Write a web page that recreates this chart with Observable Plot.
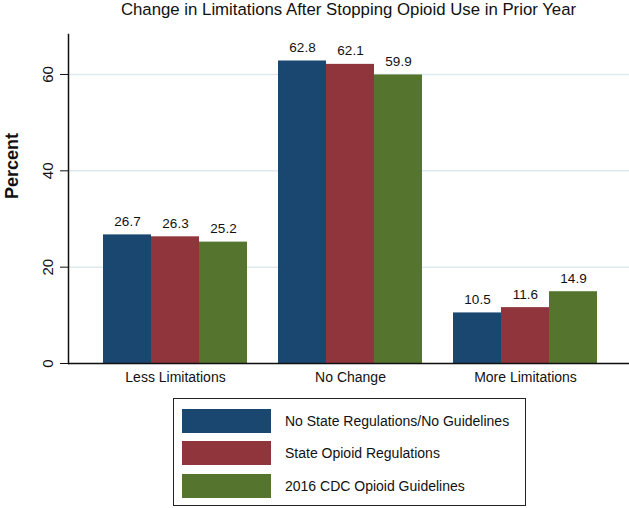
<!DOCTYPE html>
<html>
<head>
<meta charset="utf-8">
<script src="https://cdn.jsdelivr.net/npm/d3@7"></script>
<script src="https://cdn.jsdelivr.net/npm/@observablehq/plot@0.6"></script>
<style>
  body { margin: 0; background: #fff; font-family: "Liberation Sans", Arial, sans-serif; }
  #wrap { position: relative; width: 629px; height: 508px; }
  #title { position: absolute; left: 68px; width: 561px; top: 0; height: 20px; text-align: center; font-size: 16.8px; line-height: 19px; color: #111; white-space: nowrap; }
  #chart { position: absolute; left: 0; top: 28px; }
  #legend { position: absolute; left: 173px; top: 398px; width: 351px; height: 106px; border: 1px solid #222; box-sizing: content-box; }
  .item { position: absolute; left: 8px; height: 24px; }
  .sw { position: absolute; left: 0; top: 0; width: 89px; height: 24px; }
  .lab { position: absolute; left: 103px; top: 0; line-height: 24px; font-size: 14px; white-space: nowrap; color: #111; }
</style>
</head>
<body>
<div id="wrap">
  <div id="title"></div>
  <div id="chart"></div>
  <div id="legend"></div>
</div>
<script>
const title = "Change in Limitations After Stopping Opioid Use in Prior Year";
const categories = ["Less Limitations", "No Change", "More Limitations"];
const seriesNames = ["No State Regulations/No Guidelines", "State Opioid Regulations", "2016 CDC Opioid Guidelines"];
const seriesColors = ["#1a476f", "#90353b", "#55752f"];
const noRegs = [26.7, 62.8, 10.5];
const stateRegs = [26.3, 62.1, 11.6];
const cdcGuidelines = [25.2, 59.9, 14.9];
const yTicks = [0, 20, 40, 60];

const seriesValues = [noRegs, stateRegs, cdcGuidelines];
const data = [];
seriesNames.forEach((s, j) => categories.forEach((c, i) => data.push({category: c, series: s, value: seriesValues[j][i]})));

document.getElementById("title").textContent = title;

const barW = 48;
const insets = [[0, 2 * barW], [barW, barW], [2 * barW, 0]];
const offsets = [-barW, 0, barW];

const marks = [
  Plot.gridY(yTicks, {stroke: "#dde9ee", strokeOpacity: 1, strokeWidth: 1.5}),
];
seriesNames.forEach((s, j) => {
  const d = data.filter(r => r.series === s);
  marks.push(Plot.barY(d, {x: "category", y: "value", fill: seriesColors[j], insetLeft: insets[j][0], insetRight: insets[j][1]}));
  marks.push(Plot.text(d, {x: "category", y: "value", text: r => r.value.toFixed(1), dx: offsets[j], dy: -9, lineAnchor: "bottom", fontSize: 13.5, fill: "#111"}));
});
marks.push(
  Plot.ruleY([0], {stroke: "#111", strokeWidth: 1.5}),
  Plot.frame({anchor: "left", stroke: "#111", strokeWidth: 1.5}),
  Plot.axisY(yTicks, {tickSize: 8, tickPadding: 8, tickRotate: -90, fontSize: 15, label: null, tickFormat: d => String(d)}),
  Plot.axisX({tickSize: 0, tickPadding: 9, fontSize: 14, label: null}),
  Plot.text(["Percent"], {frameAnchor: "left", rotate: -90, dx: -56, fontSize: 18, fontWeight: "bold", fill: "#111"})
);

const chart = Plot.plot({
  width: 629,
  height: 362,
  marginLeft: 68,
  marginRight: 0,
  marginTop: 6,
  marginBottom: 27,
  style: {fontFamily: "Liberation Sans, Arial, sans-serif", color: "#111", background: "#fff"},
  x: {domain: categories, range: [70.4, 628.5], paddingInner: 0.18, paddingOuter: 0.18},
  y: {domain: [0, 68.3]},
  marks
});
document.getElementById("chart").appendChild(chart);

const legend = document.getElementById("legend");
const tops = [10, 42, 75];
seriesNames.forEach((s, j) => {
  const item = document.createElement("div");
  item.className = "item";
  item.style.top = tops[j] + "px";
  item.innerHTML = `<div class="sw" style="background:${seriesColors[j]}"></div><div class="lab"></div>`;
  item.querySelector(".lab").textContent = s;
  legend.appendChild(item);
});
</script>
</body>
</html>
